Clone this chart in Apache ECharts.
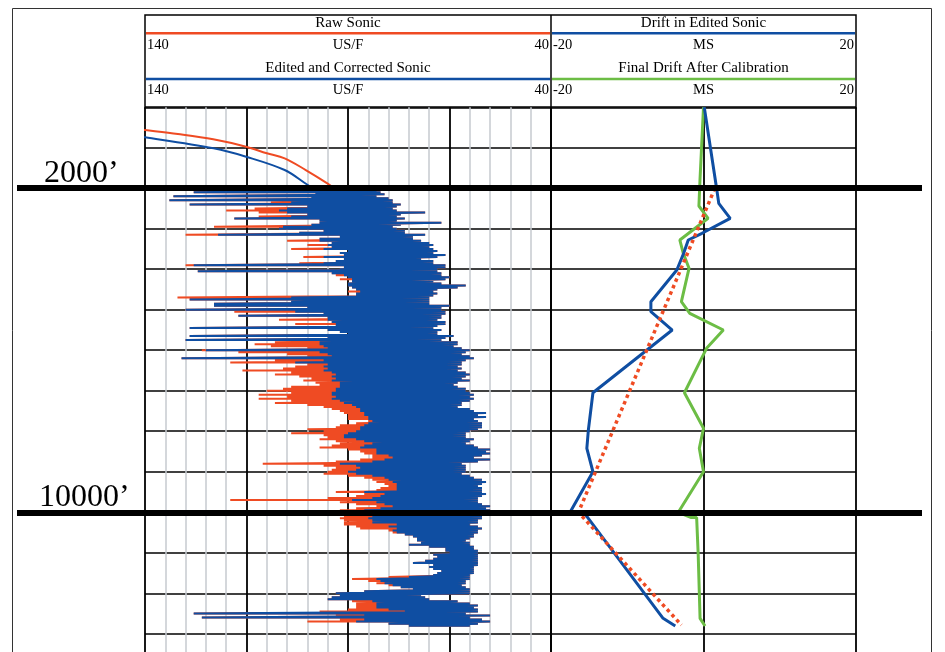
<!DOCTYPE html>
<html>
<head>
<meta charset="utf-8">
<script src="https://cdn.jsdelivr.net/npm/echarts@6.0.0/dist/echarts.min.js"></script>
<style>
  html, body { margin: 0; padding: 0; background: #fff; }
  #chart { width: 945px; height: 652px; }
</style>
</head>
<body>
<div id="chart"></div>
<script>
// ---------- depth axis ----------
const depthMax = 13450;          // depth at the bottom edge of the sheet
const depthGridStep = 1000;
const markerDepths = [2000, 10000];
const markerLabels = ['2000\u2019', '10000\u2019'];

// ---------- header texts ----------
const sonicTitles = ['Raw Sonic', 'Edited and Corrected Sonic'];
const sonicScale = ['140', 'US/F', '40'];
const driftTitles = ['Drift in Edited Sonic', 'Final Drift After Calibration'];
const driftScale = ['-20', 'MS', '20'];

// ---------- sonic log above the logged interval (ft, US/F) ----------
const rawUpperDepth = [480, 563, 662, 793, 975, 1138, 1262, 1551, 1879, 2000];
const rawUpperValue = [147, 140, 131.9, 123.2, 115.1, 110, 105.6, 100.4, 95.1, 93.5];
const editedUpperDepth = [650, 743, 1015, 1222, 1551, 1921, 2000];
const editedUpperValue = [147, 140, 123.1, 115.1, 105.6, 99.9, 98.5];

// ---------- logged interval: one row every 50 ft from 2000 ft ----------
// each row: slowest (left) and fastest (right) reading of the curve in that row
const logTop = 2000;
const logStep = 50;
const editedSlow = [
  96, 97, 128, 98, 133, 99, 134, 104, 129, 100, 105, 107, 105, 100, 104, 118, 97, 97, 99, 106,
  107, 96, 102, 122, 92, 97, 97, 94, 95, 94, 96, 90, 92, 91, 96, 91, 93, 96, 128, 91,
  92, 127, 94, 91, 90, 89, 89, 90, 90, 89, 88, 87, 88, 88, 104, 129, 104, 123, 123, 100,
  130, 103, 96, 117, 95, 95, 94, 93, 93, 129, 95, 92, 90, 129, 95, 130, 97, 97, 96, 95,
  125, 97, 95, 94, 131, 96, 103, 95, 96, 95, 96, 94, 93, 94, 93, 94, 92, 92, 92, 93,
  93, 94, 94, 93, 94, 92, 91, 89, 88, 87, 87, 86, 86, 85, 85, 84, 85, 86, 87, 87,
  88, 90, 91, 91, 88, 86, 84, 86, 87, 83, 83, 83, 80, 79, 81, 84, 92, 88, 87, 88,
  90, 88, 84, 81, 80, 79, 78, 78, 78, 78, 86, 81, 82, 84, 89, 83, 81, 79, 82, 86,
  85, 85, 84, 85, 84, 84, 78, 80, 78, 79, 78, 76, 74, 73, 73, 72, 75, 70, 66, 66,
  65, 69, 68, 69, 71, 74, 69, 70, 69, 67, 68, 69, 75, 83, 82, 81, 79, 77, 74, 86,
  93, 92, 94, 95, 84, 83, 83, 83, 80, 76, 128, 86, 126, 86, 88, 80, 75
];
const editedFast = [
  82, 83, 82, 81, 83, 80, 79, 79, 77, 78, 79, 78, 71, 77, 78, 76, 78, 67, 77, 79,
  78, 76, 76, 71, 74, 74, 72, 70, 69, 70, 69, 68, 69, 66, 68, 72, 69, 69, 66, 66,
  68, 68, 67, 67, 65, 66, 69, 67, 61, 63, 68, 69, 68, 69, 70, 70, 70, 70, 65, 67,
  67, 66, 66, 67, 67, 68, 66, 66, 68, 69, 67, 68, 68, 64, 66, 67, 63, 63, 64, 62,
  60, 61, 62, 60, 59, 61, 62, 62, 63, 62, 63, 61, 60, 61, 62, 60, 63, 64, 63, 61,
  61, 60, 59, 60, 59, 60, 62, 62, 63, 60, 59, 56, 58, 56, 59, 58, 57, 57, 57, 58,
  60, 61, 61, 61, 59, 60, 61, 59, 58, 55, 56, 55, 57, 59, 55, 58, 62, 61, 61, 61,
  61, 62, 60, 59, 57, 56, 57, 58, 57, 57, 57, 56, 57, 58, 58, 58, 57, 55, 56, 55,
  56, 57, 57, 57, 58, 58, 60, 58, 57, 58, 58, 59, 59, 60, 61, 60, 60, 59, 59, 58,
  58, 58, 58, 58, 58, 58, 58, 59, 59, 59, 59, 60, 60, 60, 61, 61, 62, 61, 60, 60,
  60, 72, 71, 70, 63, 60, 58, 59, 58, 58, 61, 55, 60, 57, 55, 58, 60
];
const rawSlow = [
  96, 97, 128, 98, 133, 99, 134, 109, 129, 100, 113, 120, 112, 100, 112, 118, 97, 97, 99, 123,
  107, 96, 102, 130, 92, 97, 105, 94, 100, 94, 104, 90, 92, 91, 101, 91, 93, 102, 130, 91,
  92, 127, 94, 93, 90, 92, 89, 90, 90, 89, 88, 90, 88, 88, 132, 129, 104, 123, 123, 100,
  130, 118, 96, 117, 95, 107, 94, 103, 93, 129, 95, 92, 90, 129, 95, 130, 108, 113, 109, 100,
  126, 117, 105, 100, 131, 108, 119, 100, 103, 106, 116, 104, 108, 102, 99, 101, 98, 97, 104, 106,
  110, 104, 112, 105, 112, 104, 108, 100, 96, 94, 92, 91, 90, 90, 90, 85, 88, 92, 93, 100,
  96, 104, 96, 95, 97, 93, 92, 94, 97, 90, 87, 86, 84, 84, 87, 93, 111, 96, 93, 94,
  95, 96, 90, 86, 84, 83, 81, 80, 82, 83, 93, 86, 88, 95, 119, 92, 88, 83, 88, 92,
  91, 92, 91, 92, 91, 91, 91, 88, 87, 80, 79, 76, 74, 73, 73, 72, 75, 70, 66, 66,
  65, 69, 68, 69, 71, 74, 69, 70, 69, 67, 68, 69, 80, 89, 85, 83, 80, 77, 74, 86,
  93, 92, 94, 95, 89, 88, 88, 88, 90, 97, 128, 93, 126, 92, 100, 80, 75
];

// ---------- drift track (ms) ----------
const driftDepth = [0, 1980, 2373, 2743, 3113, 3279, 3607, 4020, 4802, 5049, 5501, 7049, 7970, 8422, 9000, 10000, 10050, 12619, 12809];
const driftValue = [0.1, 1.7, 2.0, 3.5, -0.2, -2.0, -2.6, -3.5, -6.9, -6.9, -4.1, -14.5, -15.1, -15.3, -14.5, -17.5, -15.5, -5.3, -3.7];
const finalDepth = [0, 1797, 2439, 2743, 3279, 3607, 3978, 4802, 5089, 5501, 5953, 7049, 7928, 8422, 9000, 10000, 10130, 10130, 11015, 12619, 12809];
const finalValue = [0, -0.46, -0.6, 0.6, -3.1, -2.65, -1.9, -2.9, -1.8, 2.6, 0.4, -2.5, 0, -0.55, 0, -3.3, -1.6, -0.9, -0.7, -0.45, 0.2];
const trendDepth = [2000, 10000, 12784];
const trendValue = [1.5, -16.4, -2.9];

// ---------- styling ----------
const RED = '#EF4B23';
const BLUE = '#0F4EA2';
const GREEN = '#6CBD45';
const SERIF = '"Liberation Serif", "Times New Roman", serif';

const plotTop = 107.2;
const plotHeight = 544.8;        // 0 ft at the header, 40.5 px per 1000 ft
const sonicTrack = { left: 145, width: 406 };
const driftTrack = { left: 551, width: 305 };
const markerSpan = { left: 17, width: 905 };
const markerLabelDx = [27, 22];

const pairs = (xs, ys) => xs.map((x, i) => [x, ys[i]]);
function rowPath(slow, fast) {
  const pts = [];
  slow.forEach((v, i) => {
    const d = logTop + i * logStep;
    pts.push([v, d], [fast[i], d]);
  });
  return pts;
}

// header block
const graphic = [];
function txt(s, x, y, align, size) {
  return {
    type: 'text', silent: true,
    style: { text: s, x: x, y: y, textAlign: align, textVerticalAlign: 'middle',
             font: size + 'px ' + SERIF, fill: '#000' }
  };
}
graphic.push({ type: 'rect', silent: true, shape: { x: 12.5, y: 8.5, width: 919, height: 700 },
  style: { fill: 'none', stroke: '#333', lineWidth: 1 } });
graphic.push({ type: 'rect', silent: true, shape: { x: 145, y: 15, width: 711, height: 93 },
  style: { fill: 'none', stroke: '#000', lineWidth: 1.5 } });
graphic.push({ type: 'line', silent: true, shape: { x1: 551, y1: 15, x2: 551, y2: 108 },
  style: { stroke: '#000', lineWidth: 1.5 } });
const headerTracks = [
  { box: sonicTrack, titles: sonicTitles, scale: sonicScale, colors: [RED, BLUE] },
  { box: driftTrack, titles: driftTitles, scale: driftScale, colors: [BLUE, GREEN] }
];
const titleY = [23.3, 68.5], lineY = [33.3, 79], scaleY = [45, 90];
headerTracks.forEach(t => {
  const cx = t.box.left + t.box.width / 2;
  t.titles.forEach((title, k) => {
    graphic.push(txt(title, cx, titleY[k], 'center', 15));
    graphic.push({ type: 'line', silent: true,
      shape: { x1: t.box.left + 1, y1: lineY[k], x2: t.box.left + t.box.width - 1, y2: lineY[k] },
      style: { stroke: t.colors[k], lineWidth: 2.5 } });
    graphic.push(txt(t.scale[0], t.box.left + 2, scaleY[k], 'left', 14.5));
    graphic.push(txt(t.scale[1], cx, scaleY[k], 'center', 14.5));
    graphic.push(txt(t.scale[2], t.box.left + t.box.width - 2, scaleY[k], 'right', 14.5));
  });
});

const hidden = { axisLine: { show: false }, axisTick: { show: false }, axisLabel: { show: false } };
const depthAxis = (gi, showGrid) => Object.assign({
  type: 'value', gridIndex: gi, min: 0, max: depthMax, interval: depthGridStep, inverse: true,
  splitLine: { show: showGrid, showMaxLine: false, lineStyle: { color: '#000', width: 1.5 } }
}, hidden);

const option = {
  animation: false,
  grid: [
    { left: sonicTrack.left, top: plotTop, width: sonicTrack.width, height: plotHeight },
    { left: driftTrack.left, top: plotTop, width: driftTrack.width, height: plotHeight },
    { left: markerSpan.left, top: plotTop, width: markerSpan.width, height: plotHeight }
  ],
  xAxis: [
    Object.assign({
      type: 'value', gridIndex: 0, min: 40, max: 140, interval: 25, inverse: true,
      splitLine: { show: true, lineStyle: { color: '#000', width: 1.8 } },
      minorTick: { show: false, splitNumber: 5 },
      minorSplitLine: { show: true, lineStyle: { color: '#C6CACF', width: 1.5 } }
    }, hidden),
    Object.assign({
      type: 'value', gridIndex: 1, min: -20, max: 20, interval: 20,
      splitLine: { show: true, lineStyle: { color: '#000', width: 1.8 } }
    }, hidden),
    Object.assign({ type: 'value', gridIndex: 2, min: 0, max: 1, splitLine: { show: false } }, hidden)
  ],
  yAxis: [depthAxis(0, true), depthAxis(1, true), depthAxis(2, false)],
  graphic: graphic,
  series: [
    { name: 'Raw Sonic', type: 'line', xAxisIndex: 0, yAxisIndex: 0, showSymbol: false, smooth: 0.35,
      data: pairs(rawUpperValue, rawUpperDepth), lineStyle: { color: RED, width: 2 } },
    { name: 'Edited and Corrected Sonic', type: 'line', xAxisIndex: 0, yAxisIndex: 0, showSymbol: false, smooth: 0.35,
      data: pairs(editedUpperValue, editedUpperDepth), lineStyle: { color: BLUE, width: 2 } },
    { name: 'Raw Sonic log', type: 'line', xAxisIndex: 0, yAxisIndex: 0, showSymbol: false,
      data: rowPath(rawSlow, editedFast), lineStyle: { color: RED, width: 2, join: 'bevel' } },
    { name: 'Edited Sonic log', type: 'line', xAxisIndex: 0, yAxisIndex: 0, showSymbol: false,
      data: rowPath(editedSlow, editedFast), lineStyle: { color: BLUE, width: 2, join: 'bevel' } },
    { name: 'Final Drift After Calibration', type: 'line', xAxisIndex: 1, yAxisIndex: 1, showSymbol: false,
      data: pairs(finalValue, finalDepth), lineStyle: { color: GREEN, width: 3 } },
    { name: 'Drift in Edited Sonic', type: 'line', xAxisIndex: 1, yAxisIndex: 1, showSymbol: false,
      data: pairs(driftValue, driftDepth), lineStyle: { color: BLUE, width: 3 } },
    { name: 'Drift trend', type: 'line', xAxisIndex: 1, yAxisIndex: 1, showSymbol: false,
      data: pairs(trendValue, trendDepth), lineStyle: { color: RED, width: 3.5, type: [3.5, 3.5] } },
    { name: 'Depth markers', type: 'line', xAxisIndex: 2, yAxisIndex: 2, z: 10, data: [], silent: true,
      markLine: {
        symbol: 'none', silent: true, animation: false,
        lineStyle: { color: '#000', width: 6, type: 'solid' },
        emphasis: { disabled: true },
        label: { show: true, position: 'insideStartTop', color: '#000', fontSize: 32, fontFamily: SERIF },
        data: markerDepths.map((d, i) => ({
          yAxis: d,
          label: { formatter: markerLabels[i], distance: [markerLabelDx[i], -1] }
        }))
      }
    }
  ]
};

echarts.init(document.getElementById('chart'), null, { renderer: 'canvas' }).setOption(option);
</script>
</body>
</html>
